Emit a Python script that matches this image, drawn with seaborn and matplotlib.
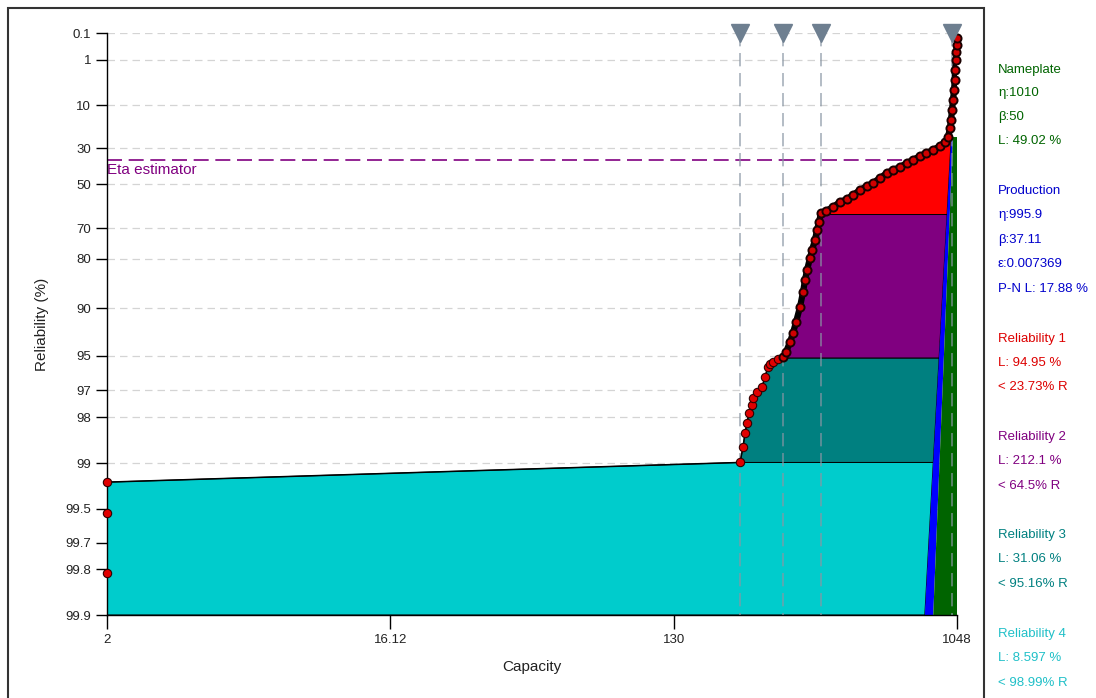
import numpy as np
import pandas as pd
import matplotlib
matplotlib.use("Agg")
import matplotlib.pyplot as plt
import seaborn as sns
from matplotlib.ticker import NullLocator, FixedLocator, FixedFormatter
from matplotlib.patches import Rectangle

# observed points (capacity, reliability %)
capacity = [2, 2, 2,
            212, 216.7, 220, 223, 226.5, 231.5, 233, 240, 249, 255, 260, 265, 270, 280, 291,
            297.4, 306.3, 313.1, 320.2, 329.7, 337.1, 342.1, 347.2, 354.9, 360.2, 368.2, 373.7, 379.3, 384.9,
            399.3, 420.5, 442.7, 466.2, 487.2, 513.1, 540.1, 564.5, 594.4, 626.0, 654.2, 688.7, 725.2,
            757.9, 798.0, 834.1, 878.3, 924.7, 959.4, 980.9,
            995.4, 1002.8, 1010.2, 1017.6, 1025.2, 1032.7, 1034, 1040.4, 1042, 1048, 1048]
reliability = [99.81, 99.53, 99.25,
               98.99, 98.72, 98.42, 98.17, 97.87, 97.60, 97.33, 97.08, 96.86, 96.35, 95.76, 95.6, 95.44, 95.25, 95.08,
               94.71, 93.87, 93.00, 91.78, 89.79, 87.35, 85.03, 82.79, 79.72, 77.42, 74.23, 70.70, 67.61, 63.83,
               62.94, 61.17, 58.83, 57.38, 55.44, 52.92, 50.84, 49.25, 46.58, 43.85, 42.21, 40.54, 38.30,
               36.64, 34.40, 32.76, 31.07, 28.88, 26.74, 24.10,
               19.55, 15.82, 11.71, 8.23, 5.47, 3.39, 1.95, 1.02, 0.57, 0.315, 0.165]

# band limits: reliability level, capacity where the data crosses it, production line capacity
band_levels = [98.99, 95.16, 64.5]
band_left = [212, 286, 383.5]
band_prod = [880.0, 918.5, 974.0]
band_colors = ["#00CCCC", "#008080", "#800080", "#FF0000"]

# production / nameplate lines (bottom at 99.9 %, top at 24.1 %)
prod_cap = [826.8, 1004.7]
name_cap = [879.8, 1017.2]
line_rel = [99.9, 24.1]

eta_rel = 36.79
markers_cap = [212, 291, 385, 1010]

xticks = [2, 16.12, 130, 1048]
yticks = [0.1, 1, 10, 30, 50, 70, 80, 90, 95, 97, 98, 99, 99.5, 99.7, 99.8, 99.9]

side_text = [
    ("Nameplate", 70, "#006400"), ("\u03b7:1010", 93, "#006400"), ("\u03b2:50", 117, "#006400"),
    ("L: 49.02 %", 141, "#006400"),
    ("Production", 191, "#0000CC"), ("\u03b7:995.9", 215, "#0000CC"), ("\u03b2:37.11", 240, "#0000CC"),
    ("\u03b5:0.007369", 264, "#0000CC"), ("P-N L: 17.88 %", 289, "#0000CC"),
    ("Reliability 1", 339, "#DD0000"), ("L: 94.95 %", 363, "#DD0000"), ("< 23.73% R", 387, "#DD0000"),
    ("Reliability 2", 437, "#800080"), ("L: 212.1 %", 461, "#800080"), ("< 64.5% R", 486, "#800080"),
    ("Reliability 3", 535, "#008080"), ("L: 31.06 %", 559, "#008080"), ("< 95.16% R", 584, "#008080"),
    ("Reliability 4", 634, "#20C0C8"), ("L: 8.597 %", 658, "#20C0C8"), ("< 98.99% R", 683, "#20C0C8"),
]

sns.set_style("white")
plt.rcParams['font.family'] = ['Liberation Sans', 'DejaVu Sans']

df = pd.DataFrame({"Capacity": capacity, "Reliability": reliability})


def fwd(r):
    r = np.clip(np.asarray(r, dtype=float), 1e-6, 100 - 1e-6)
    return -np.log(-np.log(r / 100.0))


def inv(z):
    return 100.0 * np.exp(-np.exp(-np.asarray(z, dtype=float)))


fig = plt.figure(figsize=(10.96, 6.98), dpi=100)
ax = fig.add_axes([107 / 1096, 1 - 615 / 698, 850 / 1096, 582 / 698])
ax.set_xscale("log")
ax.set_yscale("function", functions=(fwd, inv))
ax.set_xlim(2, 1048)
ax.set_ylim(99.9, 0.1)

cap = np.array(capacity)
rel = np.array(reliability)

# cyan band
ax.fill([2, 2, band_left[0], band_prod[0], prod_cap[0]],
        [99.9, rel[2], band_levels[0], band_levels[0], 99.9],
        color=band_colors[0], ec="black", lw=0.7, zorder=2)
# teal band
m = (cap > 2) & (rel < band_levels[0]) & (rel > band_levels[1])
ax.fill([band_left[0]] + list(cap[m]) + [band_left[1], band_prod[1], band_prod[0]],
        [band_levels[0]] + list(rel[m]) + [band_levels[1], band_levels[1], band_levels[0]],
        color=band_colors[1], ec="black", lw=0.7, zorder=2)
# purple band
m = (rel < band_levels[1]) & (rel > band_levels[2])
ax.fill([band_left[1]] + list(cap[m]) + [band_left[2], band_prod[2], band_prod[1]],
        [band_levels[1]] + list(rel[m]) + [band_levels[2], band_levels[2], band_levels[1]],
        color=band_colors[2], ec="black", lw=0.7, zorder=2)
# red band
m = (rel < band_levels[2]) & (rel >= line_rel[1])
ax.fill([band_left[2]] + list(cap[m]) + [prod_cap[1], band_prod[2]],
        [band_levels[2]] + list(rel[m]) + [line_rel[1], band_levels[2]],
        color=band_colors[3], ec="black", lw=0.7, zorder=2)
# production -> nameplate
ax.fill([prod_cap[0], prod_cap[1], name_cap[1], name_cap[0]],
        [line_rel[0], line_rel[1], line_rel[1], line_rel[0]],
        color="#0000FF", lw=0, zorder=2)
# nameplate -> max capacity
ax.fill([name_cap[0], name_cap[1], 1048, 1048],
        [line_rel[0], line_rel[1], line_rel[1], line_rel[0]],
        color="#006400", lw=0, zorder=2)

# eta estimator
ax.plot([2, 1010], [eta_rel, eta_rel], color="#800080", lw=1.2, ls=(0, (9, 4)), zorder=1.5)
ax.text(2.0, 42.3, "Eta estimator", color="#800080", fontsize=11, va="center", ha="left", zorder=1.5)

# markers + vertical dashed guides
for c in markers_cap:
    ax.plot([c, c], [0.1, 99.9], color="#8a96a4", lw=1.2, ls=(0, (8, 4)), alpha=0.75, zorder=3)
ax.plot(markers_cap, [0.1] * len(markers_cap), ls="none", marker="v", ms=13,
        color="#6e7f90", clip_on=False, zorder=7)

# data
sns.lineplot(data=df, x="Capacity", y="Reliability", sort=False, estimator=None,
             color="black", lw=1.1, ax=ax, zorder=4)
dense = df[df["Reliability"] < 95.2]
sparse = df[df["Reliability"] >= 95.2]
sns.lineplot(data=dense, x="Capacity", y="Reliability", sort=False, estimator=None,
             color="black", lw=4.5, ax=ax, zorder=4)
sns.scatterplot(data=sparse, x="Capacity", y="Reliability", color="#E00000", edgecolor="#300000",
                linewidth=0.8, s=36, ax=ax, zorder=5, clip_on=False)
sns.scatterplot(data=dense, x="Capacity", y="Reliability", color="#D00000", edgecolor="#1a0000",
                linewidth=1.4, s=34, ax=ax, zorder=5, clip_on=False)

ax.xaxis.set_major_locator(FixedLocator(xticks))
ax.xaxis.set_major_formatter(FixedFormatter([str(t) for t in xticks]))
ax.xaxis.set_minor_locator(NullLocator())
ax.yaxis.set_major_locator(FixedLocator(yticks))
ax.yaxis.set_major_formatter(FixedFormatter([str(t) for t in yticks]))
ax.yaxis.set_minor_locator(NullLocator())

ax.set_axisbelow(True)
ax.yaxis.grid(True, color="#d4d4d4", ls=(0, (6, 4)), lw=0.9)
ax.xaxis.grid(False)
for s in ["top", "right"]:
    ax.spines[s].set_visible(False)
for s in ["left", "bottom"]:
    ax.spines[s].set_color("black")
    ax.spines[s].set_linewidth(1.0)
ax.tick_params(axis="y", direction="out", length=8, width=1, color="black", labelsize=9.5, labelcolor="#222222", left=True)
ax.tick_params(axis="x", direction="out", length=10, width=1, color="black", labelsize=9.5, labelcolor="#222222", bottom=True)

ax.set_xlabel("Capacity", fontsize=11, labelpad=10, color="#222222")
ax.set_ylabel("Reliability (%)", fontsize=11, labelpad=12, color="#222222")

for txt, yp, col in side_text:
    fig.text(998 / 1096, 1 - yp / 698, txt, color=col, fontsize=9.5, va="center", ha="left")

fig.patches.append(Rectangle((8 / 1096, -0.02), 976 / 1096, 1.02 - 8 / 698, transform=fig.transFigure,
                             fill=False, ec="#333333", lw=1.5))

fig.savefig("out.png", dpi=100)
